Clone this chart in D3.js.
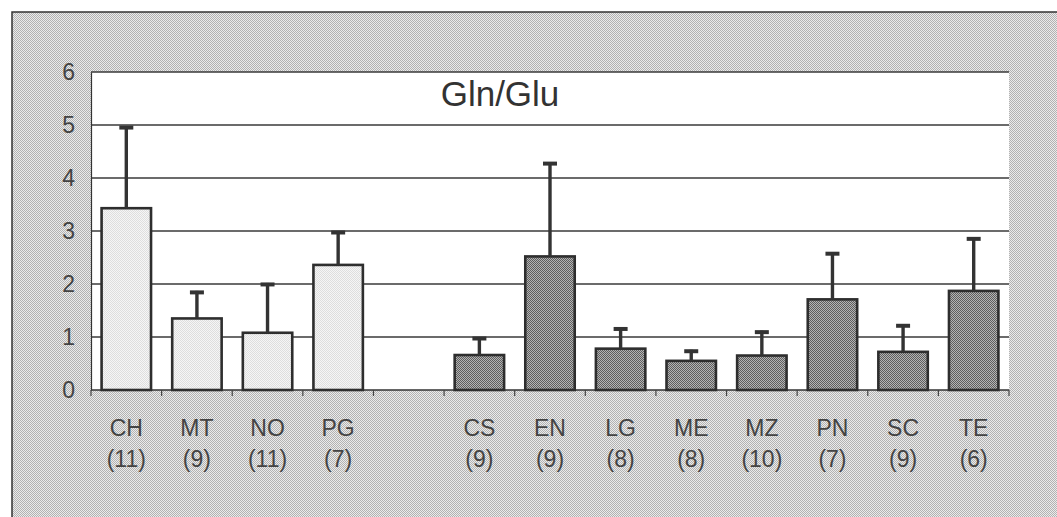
<!DOCTYPE html>
<html>
<head>
<meta charset="utf-8">
<script src="https://cdn.jsdelivr.net/npm/d3@7"></script>
<style>
  html, body { margin: 0; padding: 0; background: #fff; }
  svg { display: block; }
  text { font-family: "Liberation Sans", Arial, sans-serif; }
</style>
</head>
<body>
<svg id="chart" width="1057" height="517"></svg>
<script>
// ---- data ----
const categories = ["CH", "MT", "NO", "PG", "", "CS", "EN", "LG", "ME", "MZ", "PN", "SC", "TE"];
const counts     = ["(11)", "(9)", "(11)", "(7)", "", "(9)", "(9)", "(8)", "(8)", "(10)", "(7)", "(9)", "(6)"];
const means      = [3.43, 1.35, 1.08, 2.36, null, 0.66, 2.52, 0.78, 0.55, 0.65, 1.71, 0.72, 1.87];
const errTops    = [4.98, 1.87, 2.02, 3.00, null, 1.00, 4.30, 1.18, 0.76, 1.12, 2.60, 1.24, 2.88];
const groups     = ["light", "light", "light", "light", null, "dark", "dark", "dark", "dark", "dark", "dark", "dark", "dark"];
const yTicks     = [0, 1, 2, 3, 4, 5, 6];
const title      = "Gln/Glu";

// ---- layout ----
const svg = d3.select("#chart");
const plot = { left: 91, right: 1009, top: 72, bottom: 390 };

const defs = svg.append("defs");
function checker(id, a, b) {
  const p = defs.append("pattern").attr("id", id).attr("width", 2).attr("height", 2)
    .attr("patternUnits", "userSpaceOnUse");
  p.append("rect").attr("width", 2).attr("height", 2).attr("fill", b);
  p.append("rect").attr("width", 1).attr("height", 1).attr("fill", a);
  p.append("rect").attr("x", 1).attr("y", 1).attr("width", 1).attr("height", 1).attr("fill", a);
}
checker("bgPat", "#b2b2b2", "#ebebeb");
checker("lightPat", "#dedede", "#f6f6f6");
checker("darkPat", "#5e5e5e", "#b4b4b4");

// outer frame
svg.append("rect").attr("x", 12).attr("y", 12).attr("width", 1060).attr("height", 520)
  .attr("fill", "url(#bgPat)").attr("stroke", "#333").attr("stroke-width", 1.5);

const x = d3.scaleBand().domain(d3.range(categories.length))
  .range([plot.left, plot.right]).paddingInner(0.3).paddingOuter(0.15);
const xb = d3.scaleBand().domain(d3.range(categories.length))
  .range([plot.left, plot.right]);
const y = d3.scaleLinear().domain([0, 6]).range([plot.bottom, plot.top]);

// plot area
svg.append("rect").attr("x", plot.left).attr("y", plot.top)
  .attr("width", plot.right - plot.left).attr("height", plot.bottom - plot.top)
  .attr("fill", "#fff");

// gridlines
svg.append("g").selectAll("line").data(yTicks.filter(d => d > 0)).join("line")
  .attr("x1", plot.left).attr("x2", plot.right)
  .attr("y1", d => y(d)).attr("y2", d => y(d))
  .attr("stroke", "#3a3a3a").attr("stroke-width", 1.3);

// y axis
const yAxis = svg.append("g").attr("transform", `translate(${plot.left},0)`)
  .call(d3.axisLeft(y).tickValues(yTicks).tickSize(0).tickPadding(16).tickFormat(d3.format("d")));
yAxis.select(".domain").attr("stroke", "#333").attr("stroke-width", 1.2);
yAxis.selectAll("text").attr("font-size", 23).attr("fill", "#444")
  .attr("font-family", "'Liberation Sans', Arial, sans-serif");

// x axis: baseline and ticks at band boundaries
const xAxisG = svg.append("g");
xAxisG.append("line").attr("x1", plot.left).attr("x2", plot.right)
  .attr("y1", plot.bottom).attr("y2", plot.bottom).attr("stroke", "#333").attr("stroke-width", 1.5);
const boundaries = d3.range(categories.length + 1).map(i => i < categories.length ? xb(i) : plot.right);
xAxisG.selectAll("line.tick").data(boundaries).join("line").attr("class", "tick")
  .attr("x1", d => d).attr("x2", d => d)
  .attr("y1", plot.bottom).attr("y2", plot.bottom + 6)
  .attr("stroke", "#444").attr("stroke-width", 1.2);

const idx = d3.range(categories.length).filter(i => means[i] !== null);

// bars
svg.append("g").selectAll("rect").data(idx).join("rect")
  .attr("x", i => x(i)).attr("width", x.bandwidth())
  .attr("y", i => y(means[i])).attr("height", i => y(0) - y(means[i]))
  .attr("fill", i => groups[i] === "light" ? "url(#lightPat)" : "url(#darkPat)")
  .attr("stroke", "#2e2e2e").attr("stroke-width", 2.6);

// error bars
const eg = svg.append("g");
eg.selectAll("line.stem").data(idx).join("line").attr("class", "stem")
  .attr("x1", i => x(i) + x.bandwidth() / 2).attr("x2", i => x(i) + x.bandwidth() / 2)
  .attr("y1", i => y(means[i])).attr("y2", i => y(errTops[i]))
  .attr("stroke", "#333").attr("stroke-width", 3.4);
eg.selectAll("line.cap").data(idx).join("line").attr("class", "cap")
  .attr("x1", i => x(i) + x.bandwidth() / 2 - 7).attr("x2", i => x(i) + x.bandwidth() / 2 + 7)
  .attr("y1", i => y(errTops[i]) + 1.5).attr("y2", i => y(errTops[i]) + 1.5)
  .attr("stroke", "#333").attr("stroke-width", 4);

// x labels
const lab = svg.append("g");
lab.selectAll("text.cat").data(idx).join("text").attr("class", "cat")
  .attr("x", i => xb(i) + xb.bandwidth() / 2).attr("y", 436)
  .attr("text-anchor", "middle").attr("font-size", 23).attr("fill", "#444")
  .text(i => categories[i]);
lab.selectAll("text.n").data(idx).join("text").attr("class", "n")
  .attr("x", i => xb(i) + xb.bandwidth() / 2).attr("y", 467)
  .attr("text-anchor", "middle").attr("font-size", 23).attr("fill", "#444")
  .text(i => counts[i]);

// title
svg.append("text").attr("x", 500).attr("y", 106).attr("text-anchor", "middle")
  .attr("font-size", 35).attr("fill", "#333").text(title);
</script>
</body>
</html>
